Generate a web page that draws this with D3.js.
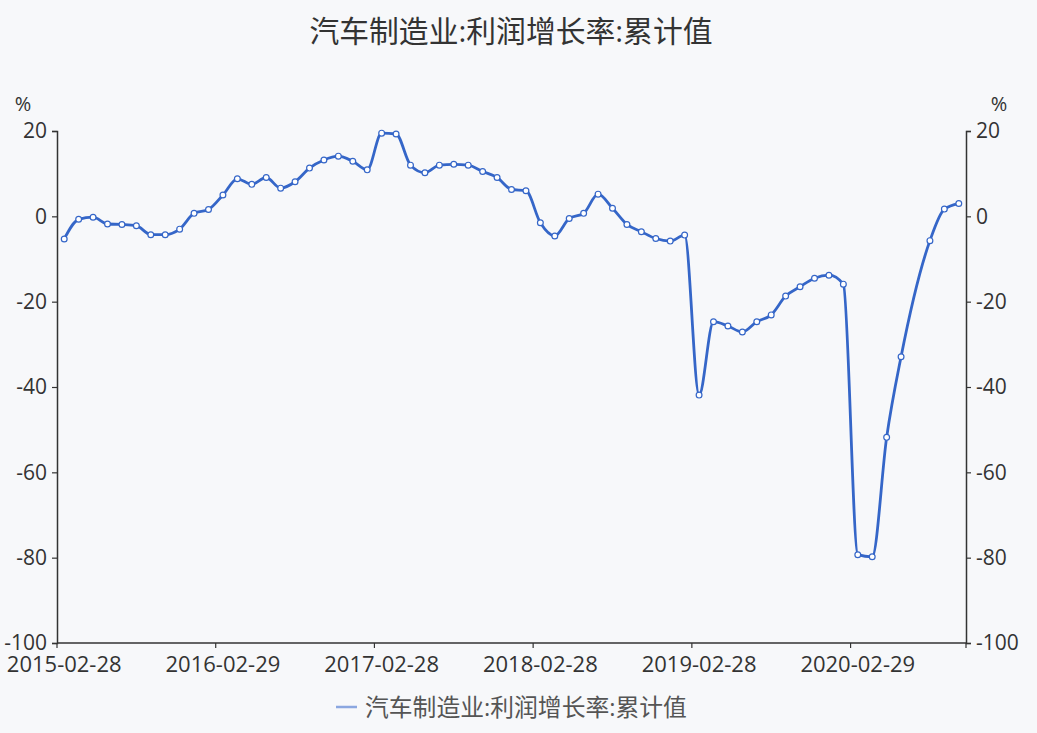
<!DOCTYPE html>
<html>
<head>
<meta charset="utf-8">
<script src="https://cdn.jsdelivr.net/npm/d3@7"></script>
<style>
  body { margin: 0; background: #f7f8fa; }
  svg { display: block; font-family: "Open Sans", "Noto Sans CJK SC", sans-serif; }
</style>
</head>
<body>
<div id="chart"></div>
<script>
// === DATA ===
const title = "汽车制造业:利润增长率:累计值";
const seriesName = "汽车制造业:利润增长率:累计值";

const dates = [
    "2015-02-28", "2015-03-31", "2015-04-30", "2015-05-31", "2015-06-30", "2015-07-31",
    "2015-08-31", "2015-09-30", "2015-10-31", "2015-11-30", "2015-12-31",
    "2016-02-29", "2016-03-31", "2016-04-30", "2016-05-31", "2016-06-30", "2016-07-31",
    "2016-08-31", "2016-09-30", "2016-10-31", "2016-11-30", "2016-12-31",
    "2017-02-28", "2017-03-31", "2017-04-30", "2017-05-31", "2017-06-30", "2017-07-31",
    "2017-08-31", "2017-09-30", "2017-10-31", "2017-11-30", "2017-12-31",
    "2018-02-28", "2018-03-31", "2018-04-30", "2018-05-31", "2018-06-30", "2018-07-31",
    "2018-08-31", "2018-09-30", "2018-10-31", "2018-11-30", "2018-12-31",
    "2019-02-28", "2019-03-31", "2019-04-30", "2019-05-31", "2019-06-30", "2019-07-31",
    "2019-08-31", "2019-09-30", "2019-10-31", "2019-11-30", "2019-12-31",
    "2020-02-29", "2020-03-31", "2020-04-30", "2020-05-31", "2020-06-30", "2020-07-31",
    "2020-08-31", "2020-09-30"
];

const values = [
    -5.3, -0.7, -0.2, -1.8, -1.9, -2.2, -4.3, -4.3, -3.0, 0.7, 1.6,
    5.0, 8.8, 7.5, 9.1, 6.6, 8.1, 11.3, 13.2, 14.1, 12.9, 10.9,
    19.5, 19.3, 12.0, 10.2, 12.0, 12.2, 12.0, 10.5, 9.1, 6.3, 6.0,
    -1.5, -4.6, -0.5, 0.7, 5.2, 1.9, -1.9, -3.6, -5.2, -5.8, -4.4,
    -41.9, -24.7, -25.7, -27.1, -24.7, -23.1, -18.7, -16.5, -14.5, -13.8, -15.9,
    -79.3, -79.8, -51.8, -32.9, null, -5.7, 1.7, 3.0
];

const yTicks = [20, 0, -20, -40, -60, -80, -100];
const xLabelEvery = 11;

// === LAYOUT ===
const width = 1037;
const height = 733;
const margin = { left: 57, right: 71, top: 131, bottom: 90 };

const svg = d3.select("#chart")
    .append("svg")
    .attr("width", width)
    .attr("height", height);

const x = d3.scaleBand()
    .domain(dates)
    .range([margin.left, width - margin.right])
    .padding(0);

const y = d3.scaleLinear()
    .domain([-100, 20])
    .range([height - margin.bottom, margin.top]);

const textColor = "#333";
const axisColor = "#333";
const lineColor = "#3566c8";

// title
svg.append("text")
    .attr("x", 511)
    .attr("y", 42)
    .attr("text-anchor", "middle")
    .attr("font-size", 29.8)
    .attr("fill", textColor)
    .text(title);

// unit labels
svg.append("text").attr("x", 23).attr("y", 111).attr("text-anchor", "middle")
    .attr("font-size", 20).attr("fill", textColor).text("%");
svg.append("text").attr("x", 999).attr("y", 111).attr("text-anchor", "middle")
    .attr("font-size", 20).attr("fill", textColor).text("%");

// y axes, left and right (plain hyphen for negatives, like the original)
function drawYAxis(axisGen, xPos) {
    const g = svg.append("g")
        .attr("transform", `translate(${xPos},0)`)
        .call(axisGen.tickValues(yTicks).tickFormat(d => String(d)).tickSize(5).tickPadding(5));
    g.select(".domain").attr("stroke", axisColor).attr("stroke-width", 1.5);
    g.selectAll(".tick line").attr("stroke", axisColor).attr("stroke-width", 1.2);
    g.selectAll(".tick text")
        .attr("font-size", 21)
        .attr("fill", textColor)
        .attr("font-family", "Open Sans, sans-serif");
    return g;
}
drawYAxis(d3.axisLeft(y), margin.left);
drawYAxis(d3.axisRight(y), width - margin.right);

// x axis: category bands, ticks at band start, labels at band center
const xAxisY = y(-100);
const xg = svg.append("g");
xg.append("line")
    .attr("x1", margin.left).attr("x2", width - margin.right)
    .attr("y1", xAxisY).attr("y2", xAxisY)
    .attr("stroke", axisColor).attr("stroke-width", 1.5);

const labelDates = dates.filter((d, i) => i % xLabelEvery === 0);
xg.selectAll(".xtick")
    .data(labelDates)
    .enter()
    .append("line")
    .attr("x1", d => x(d)).attr("x2", d => x(d))
    .attr("y1", xAxisY).attr("y2", xAxisY + 5)
    .attr("stroke", axisColor).attr("stroke-width", 1.2);
xg.append("line")
    .attr("x1", width - margin.right).attr("x2", width - margin.right)
    .attr("y1", xAxisY).attr("y2", xAxisY + 5)
    .attr("stroke", axisColor).attr("stroke-width", 1.2);
xg.selectAll(".xlabel")
    .data(labelDates)
    .enter()
    .append("text")
    .attr("x", d => x(d) + x.bandwidth() / 2)
    .attr("y", xAxisY + 29)
    .attr("text-anchor", "middle")
    .attr("font-size", 22)
    .attr("fill", textColor)
    .text(d => d);

// line and markers
const points = dates.map((d, i) => ({ date: d, value: values[i] }))
    .filter(p => p.value !== null);

const line = d3.line()
    .x(p => x(p.date) + x.bandwidth() / 2)
    .y(p => y(p.value))
    .curve(d3.curveMonotoneX);

svg.append("path")
    .datum(points)
    .attr("fill", "none")
    .attr("stroke", lineColor)
    .attr("stroke-width", 2.8)
    .attr("d", line);

svg.selectAll(".dot")
    .data(points)
    .enter()
    .append("circle")
    .attr("cx", p => x(p.date) + x.bandwidth() / 2)
    .attr("cy", p => y(p.value))
    .attr("r", 2.9)
    .attr("fill", "#fff")
    .attr("stroke", lineColor)
    .attr("stroke-width", 1.2);

// legend
const legend = svg.append("g").attr("transform", "translate(336,707)");
legend.append("line")
    .attr("x1", 0).attr("x2", 21)
    .attr("y1", 0).attr("y2", 0)
    .attr("stroke", "#8ba7e0")
    .attr("stroke-width", 2.5);
legend.append("text")
    .attr("x", 29)
    .attr("y", 8.5)
    .attr("font-size", 23.8)
    .attr("fill", "#555")
    .text(seriesName);
</script>
</body>
</html>
